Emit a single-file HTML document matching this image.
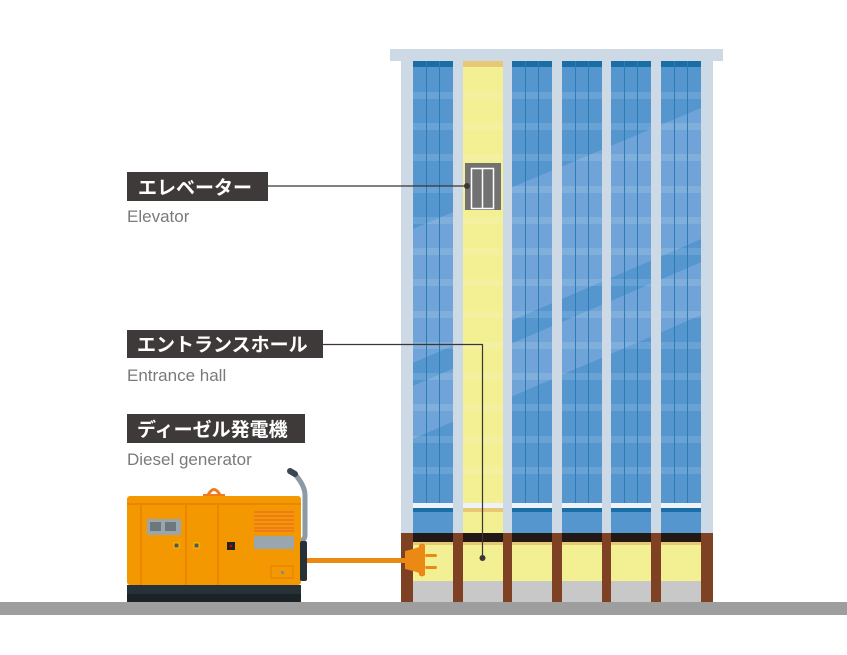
<!DOCTYPE html>
<html><head><meta charset="utf-8"><style>
html,body{margin:0;padding:0;background:#fff;}
svg{display:block;}
.jp{font-family:"Liberation Sans","Noto Sans CJK JP",sans-serif;font-weight:600;fill:#fff;font-size:19px;}
.en{font-family:"Liberation Sans",sans-serif;fill:#7a7a7a;font-size:17px;}
</style></head><body>
<svg width="847" height="655" viewBox="0 0 847 655" xmlns="http://www.w3.org/2000/svg">
<defs>
<clipPath id="win">
<rect x="413" y="67" width="40" height="436"/>
<rect x="512" y="67" width="40" height="436"/>
<rect x="562" y="67" width="40" height="436"/>
<rect x="611" y="67" width="40" height="436"/>
<rect x="661" y="67" width="40" height="436"/>
</clipPath>
</defs>
<rect x="390" y="49" width="333" height="12" fill="#cdd9e4"/>
<rect x="401" y="61" width="312" height="472" fill="#cdd9e4"/>
<g fill="#5596cf">
<rect x="413" y="61" width="40" height="442"/>
<rect x="512" y="61" width="40" height="442"/>
<rect x="562" y="61" width="40" height="442"/>
<rect x="611" y="61" width="40" height="442"/>
<rect x="661" y="61" width="40" height="442"/>
</g>
<g clip-path="url(#win)" fill="#70a4d8">
<polygon points="401,234 713,103 713,234 401,368"/>
<polygon points="401,391 713,257 713,310 401,444"/>
</g>
<rect x="463" y="61" width="40" height="442" fill="#f2f092"/>
<g fill="#1a6ea6">
<rect x="413" y="61" width="40" height="6"/>
<rect x="512" y="61" width="40" height="6"/>
<rect x="562" y="61" width="40" height="6"/>
<rect x="611" y="61" width="40" height="6"/>
<rect x="661" y="61" width="40" height="6"/>
</g>
<rect x="463" y="61" width="40" height="6" fill="#e8c874"/>
<g fill="#ffffff" fill-opacity="0.12">
<rect x="413" y="92" width="288" height="7"/>
<rect x="413" y="123" width="288" height="7"/>
<rect x="413" y="154" width="288" height="7"/>
<rect x="413" y="186" width="288" height="7"/>
<rect x="413" y="217" width="288" height="7"/>
<rect x="413" y="248" width="288" height="7"/>
<rect x="413" y="279" width="288" height="7"/>
<rect x="413" y="311" width="288" height="7"/>
<rect x="413" y="342" width="288" height="7"/>
<rect x="413" y="373" width="288" height="7"/>
<rect x="413" y="404" width="288" height="7"/>
<rect x="413" y="436" width="288" height="7"/>
<rect x="413" y="467" width="288" height="7"/>
</g>
<g fill="#cdd9e4">
<rect x="453" y="61" width="10" height="472"/>
<rect x="503" y="61" width="9" height="472"/>
<rect x="552" y="61" width="10" height="472"/>
<rect x="602" y="61" width="9" height="472"/>
<rect x="651" y="61" width="10" height="472"/>
</g>
<g stroke="#2a7db5" stroke-width="1">
<line x1="426.5" y1="61" x2="426.5" y2="503"/><line x1="439.5" y1="61" x2="439.5" y2="503"/>
<line x1="525.5" y1="61" x2="525.5" y2="503"/><line x1="538.5" y1="61" x2="538.5" y2="503"/>
<line x1="575.5" y1="61" x2="575.5" y2="503"/><line x1="588.5" y1="61" x2="588.5" y2="503"/>
<line x1="624.5" y1="61" x2="624.5" y2="503"/><line x1="637.5" y1="61" x2="637.5" y2="503"/>
<line x1="674.5" y1="61" x2="674.5" y2="503"/><line x1="687.5" y1="61" x2="687.5" y2="503"/>
</g>
<g>
<rect x="413" y="503" width="288" height="5" fill="#eef3f9"/>
<g fill="#5596cf">
<rect x="413" y="508" width="40" height="25"/><rect x="512" y="508" width="40" height="25"/>
<rect x="562" y="508" width="40" height="25"/><rect x="611" y="508" width="40" height="25"/>
<rect x="661" y="508" width="40" height="25"/>
</g>
<rect x="463" y="508" width="40" height="25" fill="#f2f092"/>
<g fill="#1a6ea6">
<rect x="413" y="508" width="40" height="4"/><rect x="512" y="508" width="40" height="4"/>
<rect x="562" y="508" width="40" height="4"/><rect x="611" y="508" width="40" height="4"/>
<rect x="661" y="508" width="40" height="4"/>
</g>
<rect x="463" y="508" width="40" height="4" fill="#e8c874"/>
<g fill="#cdd9e4">
<rect x="453" y="503" width="10" height="30"/><rect x="503" y="503" width="9" height="30"/>
<rect x="552" y="503" width="10" height="30"/><rect x="602" y="503" width="9" height="30"/>
<rect x="651" y="503" width="10" height="30"/>
</g>
</g>
<rect x="401" y="533" width="312" height="69" fill="#7f4124"/>
<g>
<rect x="413" y="533" width="288" height="9" fill="#221816"/>
<rect x="413" y="542" width="288" height="3" fill="#e8c874"/>
<rect x="413" y="545" width="288" height="36" fill="#f2f092"/>
<rect x="413" y="581" width="288" height="21" fill="#c8c8c8"/>
</g>
<g fill="#7f4124">
<rect x="453" y="533" width="10" height="69"/><rect x="503" y="533" width="9" height="69"/>
<rect x="552" y="533" width="10" height="69"/><rect x="602" y="533" width="9" height="69"/>
<rect x="651" y="533" width="10" height="69"/>
</g>
<rect x="0" y="602" width="847" height="13" fill="#9e9e9e"/>
<rect x="465" y="163" width="36" height="47" fill="#727272"/>
<rect x="471.5" y="168.5" width="22" height="40" fill="none" stroke="#fff" stroke-width="1.5"/>
<line x1="482.5" y1="168" x2="482.5" y2="209" stroke="#fff" stroke-width="1.5"/>
<line x1="268" y1="186" x2="467" y2="186" stroke="#3b3535" stroke-width="1.2"/>
<circle cx="467" cy="186" r="3" fill="#3b3535"/>
<polyline points="323,344.5 482.5,344.5 482.5,558" fill="none" stroke="#3b3535" stroke-width="1.2"/>
<circle cx="482.5" cy="558" r="3" fill="#3b3535"/>
<rect x="127" y="172" width="141" height="29" fill="#3e3a39"/>
<text class="jp" x="138" y="194">エレベーター</text>
<text class="en" x="127" y="222">Elevator</text>
<rect x="127" y="330" width="196" height="28" fill="#3e3a39"/>
<text class="jp" x="137" y="351">エントランスホール</text>
<text class="en" x="127" y="381">Entrance hall</text>
<rect x="127" y="414" width="178" height="29" fill="#3e3a39"/>
<text class="jp" x="137" y="436">ディーゼル発電機</text>
<text class="en" x="127" y="465">Diesel generator</text>
<path d="M293,472 Q305,485 305,495 L305,535 Q305,540 300,541" fill="none" stroke="#8e9aa3" stroke-width="5"/>
<line x1="290" y1="471" x2="295" y2="474" stroke="#3b4650" stroke-width="6" stroke-linecap="round"/>
<path d="M208,495 Q214,484 220,495" fill="none" stroke="#ee7b1e" stroke-width="3"/>
<rect x="203" y="494" width="22" height="3" fill="#ee7b1e"/>
<rect x="127" y="496" width="174" height="89" rx="3" fill="#f39800"/>
<rect x="127" y="503" width="174" height="2" fill="#ec8500"/>
<rect x="140" y="505" width="2" height="80" fill="#ec8500"/>
<rect x="185" y="505" width="2" height="80" fill="#ec8500"/>
<rect x="217" y="505" width="2" height="80" fill="#ec8500"/>
<rect x="147" y="519" width="34" height="16" fill="#9aa5ad"/>
<rect x="150" y="522" width="11" height="9" fill="#6d777e"/>
<rect x="165" y="522" width="11" height="9" fill="#6d777e"/>
<rect x="174" y="543" width="5" height="5" fill="#555" stroke="#f7c200"/>
<rect x="194" y="543" width="5" height="5" fill="#555" stroke="#f7c200"/>
<rect x="227" y="542" width="8" height="8" fill="#222"/>
<circle cx="231" cy="546" r="1.3" fill="#d00"/>
<g fill="#ee7b1e">
<rect x="254" y="511" width="40" height="2"/><rect x="254" y="515" width="40" height="2"/>
<rect x="254" y="519" width="40" height="2"/><rect x="254" y="523" width="40" height="2"/>
<rect x="254" y="527" width="40" height="2"/><rect x="254" y="530" width="40" height="2"/>
</g>
<rect x="254" y="536" width="40" height="13" fill="#9aa5ad"/>
<rect x="271" y="566" width="22" height="12" fill="none" stroke="#ec8500" stroke-width="1.5"/>
<rect x="281" y="571" width="3" height="3" fill="#888"/>
<rect x="127" y="585" width="174" height="9" fill="#273138"/>
<rect x="127" y="594" width="174" height="8" fill="#1b2328"/>
<rect x="300" y="541" width="7" height="40" rx="2" fill="#273138"/>
<rect x="307" y="558" width="100" height="5" fill="#ea8a15"/>
<path d="M405,551 Q414,549 419,547 L419,545 Q422,542 425,545 L425,575 Q422,578 419,575 L419,573 Q414,571 405,569 Z" fill="#ea8a15"/>
<rect x="425" y="554" width="12" height="3" rx="1.5" fill="#ea8a15"/>
<rect x="425" y="566" width="12" height="3" rx="1.5" fill="#ea8a15"/>
</svg>
</body></html>
